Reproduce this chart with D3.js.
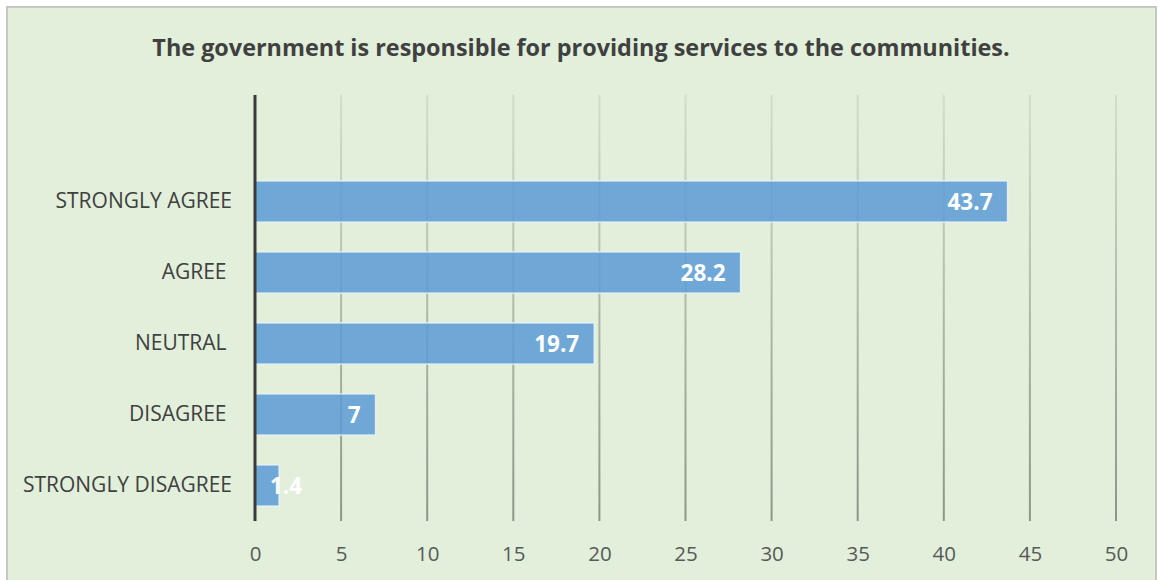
<!DOCTYPE html>
<html>
<head>
<meta charset="utf-8">
<script src="https://cdn.jsdelivr.net/npm/d3@7"></script>
<style>
  html, body { margin: 0; padding: 0; background: #ffffff; }
  svg { display: block; }
  text { font-family: "Open Sans", "Noto Sans", sans-serif; white-space: pre; }
</style>
</head>
<body>
<svg id="chart" width="1158" height="580"></svg>
<script>
// Survey responses (percent)
const categories = ["STRONGLY AGREE", "AGREE ", "NEUTRAL ", "DISAGREE ", "STRONGLY DISAGREE"];
const values = [43.7, 28.2, 19.7, 7, 1.4];
const tickValues = [0, 5, 10, 15, 20, 25, 30, 35, 40, 45, 50];
const title = "The government is responsible for providing services to the communities.";

const W = 1158, H = 580;
const plot = { left: 255, right: 1116, top: 95, bottom: 521 };
const FONT = "'Open Sans', 'Noto Sans', sans-serif";

const svg = d3.select("#chart");

// panel background and frame
svg.append("rect")
  .attr("x", 7).attr("y", 7).attr("width", W - 9).attr("height", H)
  .attr("fill", "#e2efda").attr("stroke", "#c4c8c2").attr("stroke-width", 2);

// gridline gradient: pale at the top, darker toward the axis
const defs = svg.append("defs");
const grad = defs.append("linearGradient")
  .attr("id", "gridFade").attr("gradientUnits", "userSpaceOnUse")
  .attr("x1", 0).attr("y1", plot.top).attr("x2", 0).attr("y2", plot.bottom);
grad.append("stop").attr("offset", "0%").attr("stop-color", "#d3dccd");
grad.append("stop").attr("offset", "100%").attr("stop-color", "#8c9688");

const x = d3.scaleLinear().domain([0, 50]).range([plot.left, plot.right]);

// one empty slot above the first category keeps the top band clear
const step = (plot.bottom - plot.top) / (categories.length + 1);
const y = d3.scaleBand()
  .domain(categories)
  .range([plot.top + step, plot.bottom])
  .paddingInner(0.42)
  .paddingOuter(0.21);

// vertical gridlines
svg.append("g")
  .selectAll("line")
  .data(tickValues.filter(d => d > 0))
  .join("line")
  .attr("x1", d => x(d)).attr("x2", d => x(d))
  .attr("y1", plot.top).attr("y2", plot.bottom)
  .attr("stroke", "url(#gridFade)").attr("stroke-width", 2);

// x-axis tick labels
const xAxis = d3.axisBottom(x).tickValues(tickValues).tickSize(0).tickPadding(0).tickFormat(d3.format("d"));
const gx = svg.append("g").attr("transform", `translate(0, ${plot.bottom + 40})`).call(xAxis);
gx.select(".domain").remove();
gx.selectAll("text")
  .attr("fill", "#595959").attr("font-size", 20.5).attr("dy", null)
  .attr("font-family", FONT);

// bars
svg.append("g")
  .selectAll("rect")
  .data(values)
  .join("rect")
  .attr("x", x(0))
  .attr("y", (d, i) => y(categories[i]))
  .attr("width", d => x(d) - x(0))
  .attr("height", y.bandwidth())
  .attr("fill", "#5b9bd5").attr("fill-opacity", 0.85)
  .attr("stroke", "#eef5fb").attr("stroke-opacity", 0.8).attr("stroke-width", 1.5);

// value labels at the inside end of each bar
svg.append("g")
  .selectAll("text")
  .data(values)
  .join("text")
  .attr("x", d => (x(d) - x(0) < 40 ? x(0) + 15 : x(d) - 15))
  .attr("text-anchor", d => (x(d) - x(0) < 40 ? "start" : "end"))
  .attr("y", (d, i) => y(categories[i]) + y.bandwidth() / 2)
  .attr("dy", "0.36em")
  .attr("fill", "#ffffff").attr("font-size", 22.5).attr("font-weight", "bold")
  .text(d => d);

// category axis
const yAxis = d3.axisLeft(y).tickSize(0).tickPadding(23);
const gy = svg.append("g").attr("transform", `translate(${plot.left}, 0)`).call(yAxis);
gy.select(".domain").remove();
gy.selectAll("text")
  .attr("fill", "#404040").attr("font-size", 21)
  .attr("font-family", FONT);

svg.append("line")
  .attr("x1", x(0)).attr("x2", x(0))
  .attr("y1", plot.top).attr("y2", plot.bottom)
  .attr("stroke", "#3a3a3a").attr("stroke-width", 3);

// title
svg.append("text")
  .attr("x", 581).attr("y", 56)
  .attr("text-anchor", "middle")
  .attr("fill", "#404040").attr("font-size", 23.4).attr("font-weight", "bold")
  .text(title);
</script>
</body>
</html>
